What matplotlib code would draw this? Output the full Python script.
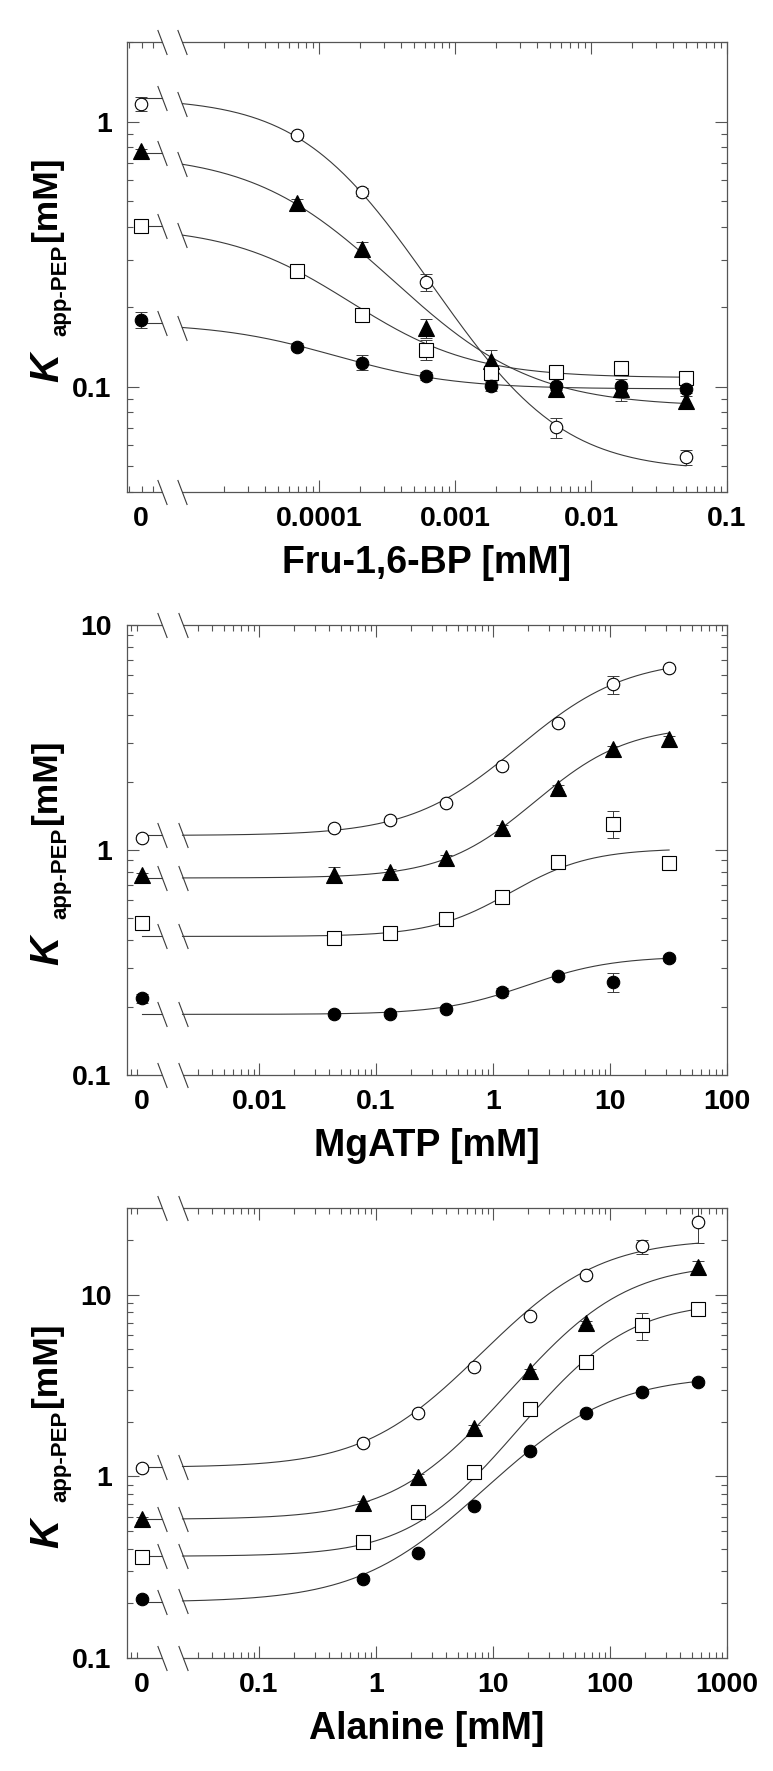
import numpy as np
import matplotlib
matplotlib.use("Agg")
import matplotlib.pyplot as plt
from matplotlib.path import Path
from matplotlib.patches import Rectangle
from matplotlib.ticker import FixedLocator, FixedFormatter, LogLocator, NullFormatter

plt.rcParams['font.family'] = ['Liberation Sans', 'DejaVu Sans']
plt.rcParams['font.weight'] = 'bold'

W, H = 773, 1771
DARK = '#3a3a3a'
FRAME = '#555555'
nan = np.nan

# ---- values; first entry of each conc list is the "0" point ----
fbp_conc = [0, 6.86e-5, 2.06e-4, 6.17e-4, 1.85e-3, 5.56e-3, 1.67e-2, 5.0e-2]
fbp_open_circle = [1.17, 0.89, 0.544, 0.248, 0.111, 0.0702, nan, 0.0542]
fbp_open_circle_err = [0.07, 0.02, 0.02, 0.018, 0.006, 0.006, 0, 0.0035]
fbp_triangle = [0.772, 0.493, 0.330, 0.166, 0.125, 0.0976, 0.0976, 0.0883]
fbp_triangle_err = [0.02, 0.02, 0.02, 0.014, 0.013, 0.006, 0.009, 0.004]
fbp_open_square = [0.405, 0.274, 0.186, 0.138, 0.113, 0.114, 0.1176, 0.108]
fbp_open_square_err = [0.02, 0.01, 0.006, 0.012, 0.005, 0.005, 0.006, 0.004]
fbp_circle = [0.179, 0.1415, 0.1232, 0.1097, 0.1003, 0.1004, 0.1006, 0.0976]
fbp_circle_err = [0.012, 0.004, 0.008, 0.004, 0.004, 0.003, 0.003, 0.003]
# fits: K at zero, K at saturation, half-effect conc, Hill n
fbp_fit_open_circle = [1.23, 0.048, 1.5e-4, 1.08]
fbp_fit_triangle = [0.76, 0.084, 1.05e-4, 0.92]
fbp_fit_open_square = [0.403, 0.108, 8.8e-5, 1.0]
fbp_fit_circle = [0.174, 0.098, 1.0e-4, 1.0]

atp_conc = [0, 0.044, 0.132, 0.395, 1.19, 3.56, 10.7, 32]
atp_open_circle = [1.134, 1.248, 1.36, 1.617, 2.36, 3.66, 5.46, 6.44]
atp_open_circle_err = [0.03, 0.03, 0.03, 0.04, 0.06, 0.1, 0.5, 0.15]
atp_triangle = [0.774, 0.776, 0.802, 0.918, 1.253, 1.89, 2.81, 3.10]
atp_triangle_err = [0.02, 0.065, 0.02, 0.03, 0.04, 0.06, 0.1, 0.12]
atp_open_square = [0.476, 0.405, 0.429, 0.495, 0.619, 0.886, 1.31, 0.873]
atp_open_square_err = [0.02, 0.01, 0.015, 0.035, 0.02, 0.03, 0.18, 0.06]
atp_circle = [0.219, 0.1875, 0.1875, 0.197, 0.2335, 0.2756, 0.258, 0.3305]
atp_circle_err = [0.01, 0.005, 0.005, 0.005, 0.01, 0.008, 0.025, 0.01]
atp_fit_open_circle = [1.16, 7.1, 4.06, 1.0]
atp_fit_triangle = [0.751, 3.58, 4.5, 1.15]
atp_fit_open_square = [0.413, 1.016, 2.0, 1.3]
atp_fit_circle = [0.186, 0.337, 2.5, 1.2]

ala_conc = [0, 0.77, 2.3, 6.9, 20.7, 62, 187, 560]
ala_open_circle = [1.108, 1.525, 2.245, 3.98, 7.67, 12.77, 18.45, 24.97]
ala_open_circle_err = [0.04, 0.05, 0.08, 0.12, 0.25, 0.4, 1.6, 5.8]
ala_triangle = [0.581, 0.71, 0.997, 1.855, 3.78, 6.97, nan, 14.27]
ala_triangle_err = [0.02, 0.02, 0.03, 0.06, 0.12, 0.2, 0, 1.1]
ala_open_square = [0.36, 0.436, 0.64, 1.056, 2.34, 4.26, 6.8, 8.32]
ala_open_square_err = [0.01, 0.01, 0.02, 0.03, 0.07, 0.12, 1.15, 0.35]
ala_circle = [0.211, 0.2735, 0.379, 0.687, 1.387, 2.245, 2.91, 3.29]
ala_circle_err = [0.006, 0.008, 0.01, 0.02, 0.04, 0.06, 0.08, 0.1]
ala_fit_open_circle = [1.12, 20.3, 34, 1.0]
ala_fit_triangle = [0.58, 14.93, 65, 1.05]
ala_fit_open_square = [0.363, 9.16, 72, 1.1]
ala_fit_circle = [0.203, 3.6, 40, 0.93]

fbp_xticklabels = ['0', '0.0001', '0.001', '0.01', '0.1']
atp_xticklabels = ['0', '0.01', '0.1', '1', '10', '100']
ala_xticklabels = ['0', '0.1', '1', '10', '100', '1000']

# marker styles: open circle, filled triangle, open square, filled circle
STYLES = [dict(marker='o', ms=9.0, mfc='white'),
          dict(marker='^', ms=11.0, mfc='black'),
          dict(marker='s', ms=9.6, mfc='white'),
          dict(marker='o', ms=9.0, mfc='black')]

slash = Path([(-0.19, 0.5), (0.19, -0.5)], [Path.MOVETO, Path.LINETO])


def hill(x, p):
    k0, kinf, k50, n = p
    return k0 + (kinf - k0) * x ** n / (k50 ** n + x ** n)


# axis layout: x limits, position of "0", break edges
panels = [
    dict(top=42, conc=fbp_conc, xlim=(10 ** -5.412, 0.1), x0=4.9e-6, brk=(6.97e-6, 9.9e-6),
         xmaj=[1e-4, 1e-3, 1e-2, 1e-1], xlab=fbp_xticklabels, ylim=(0.04, 2),
         ymaj=[0.1, 1], ylab=['0.1', '1'], xlabel='Fru-1,6-BP [mM]',
         series=[(fbp_open_circle, fbp_open_circle_err, fbp_fit_open_circle),
                 (fbp_triangle, fbp_triangle_err, fbp_fit_triangle),
                 (fbp_open_square, fbp_open_square_err, fbp_fit_open_square),
                 (fbp_circle, fbp_circle_err, fbp_fit_circle)]),
    dict(top=625, conc=atp_conc, xlim=(10 ** -3.128, 100), x0=1.0e-3, brk=(1.475e-3, 2.22e-3),
         xmaj=[1e-2, 1e-1, 1, 10, 100], xlab=atp_xticklabels, ylim=(0.1, 10),
         ymaj=[0.1, 1, 10], ylab=['0.1', '1', '10'], xlabel='MgATP [mM]',
         series=[(atp_open_circle, atp_open_circle_err, atp_fit_open_circle),
                 (atp_triangle, atp_triangle_err, atp_fit_triangle),
                 (atp_open_square, atp_open_square_err, atp_fit_open_square),
                 (atp_circle, atp_circle_err, atp_fit_circle)]),
    dict(top=1208, conc=ala_conc, xlim=(10 ** -2.128, 1000), x0=1.0e-2, brk=(1.475e-2, 2.22e-2),
         xmaj=[1e-1, 1, 10, 100, 1000], xlab=ala_xticklabels, ylim=(0.1, 30),
         ymaj=[0.1, 1, 10], ylab=['0.1', '1', '10'], xlabel='Alanine [mM]',
         series=[(ala_open_circle, ala_open_circle_err, ala_fit_open_circle),
                 (ala_triangle, ala_triangle_err, ala_fit_triangle),
                 (ala_open_square, ala_open_square_err, ala_fit_open_square),
                 (ala_circle, ala_circle_err, ala_fit_circle)]),
]

fig = plt.figure(figsize=(W / 100, H / 100), dpi=100)

for pn in panels:
    top = pn['top']
    ax = fig.add_axes([127 / W, 1 - (top + 450) / H, 600 / W, 450 / H])
    ax.set_xscale('log')
    ax.set_yscale('log')
    ax.set_xlim(*pn['xlim'])
    ax.set_ylim(*pn['ylim'])

    x0 = pn['x0']
    xb1, xb2 = pn['brk']
    xs = np.array([x0 if c == 0 else c for c in pn['conc']], dtype=float)

    for (vals, errs, fit), st in zip(pn['series'], STYLES):
        # fitted curve: short level piece before the break, then the curve
        ax.plot([x0, xb1], [fit[0], fit[0]], color=DARK, lw=0.8, zorder=2)
        xc = np.logspace(np.log10(xb2), np.log10(xs[-1]), 300)
        ax.plot(xc, hill(xc, fit), color=DARK, lw=0.8, zorder=2)
        ax.plot([xb1, xb2], [fit[0], hill(xb2, fit)], ls='none', marker=slash, ms=18,
                mew=0.8, mec=DARK, mfc='none', zorder=4)
        ax.errorbar(xs, vals, yerr=errs, fmt='none', ecolor=DARK, elinewidth=0.7,
                    capsize=4, capthick=0.7, zorder=3)
        ax.plot(xs, vals, ls='none', mec='black', mew=0.8, zorder=5, **st)

    # broken frame
    for yy in (0, 1):
        ax.add_patch(Rectangle((xb1, yy - 0.02), xb2 - xb1, 0.04, transform=ax.get_xaxis_transform(),
                               facecolor='white', edgecolor='none', zorder=3.5, clip_on=False))
        ax.plot([xb1, xb2], [yy, yy], transform=ax.get_xaxis_transform(), ls='none',
                marker=slash, ms=18, mew=0.8, mec=DARK, mfc='none', zorder=4, clip_on=False)

    ax.xaxis.remove_overlapping_locs = False
    ax.xaxis.set_major_locator(FixedLocator([x0] + pn['xmaj']))
    ax.xaxis.set_major_formatter(FixedFormatter(pn['xlab']))
    ax.xaxis.set_minor_locator(LogLocator(base=10, subs=np.arange(2, 10), numticks=30))
    ax.xaxis.set_minor_formatter(NullFormatter())
    ax.yaxis.set_major_locator(FixedLocator(pn['ymaj']))
    ax.yaxis.set_major_formatter(FixedFormatter(pn['ylab']))
    ax.yaxis.set_minor_locator(LogLocator(base=10, subs=np.arange(2, 10), numticks=30))
    ax.yaxis.set_minor_formatter(NullFormatter())

    ax.tick_params(which='both', direction='in', top=True, right=True, color=FRAME, width=0.8)
    ax.tick_params(which='major', length=8.6, labelsize=20.5)
    ax.tick_params(which='minor', length=4.6)
    ax.tick_params(axis='x', which='major', pad=10)
    ax.tick_params(axis='y', which='major', pad=11)
    for s in ax.spines.values():
        s.set_color(FRAME)
        s.set_linewidth(0.9)
    t0 = ax.xaxis.get_major_ticks()[0]
    t0.tick1line.set_visible(False)
    t0.tick2line.set_visible(False)

    ax.set_xlabel(pn['xlabel'], fontsize=27, fontweight='bold', va='center')
    ax.xaxis.set_label_coords(0.5, -71 / 450)

    # y label: italic K with subscript, built from pieces
    kw = dict(rotation=90, rotation_mode='anchor', ha='left', va='baseline', fontweight='bold')
    fig.text(58 / W, 1 - (top + 340) / H, 'K', fontsize=29, fontstyle='italic', **kw)
    fig.text(66 / W, 1 - (top + 294) / H, 'app-PEP', fontsize=16, **kw)
    fig.text(56 / W, 1 - (top + 199) / H, '[mM]', fontsize=25.5, **kw)

fig.savefig('out.png', dpi=100)
